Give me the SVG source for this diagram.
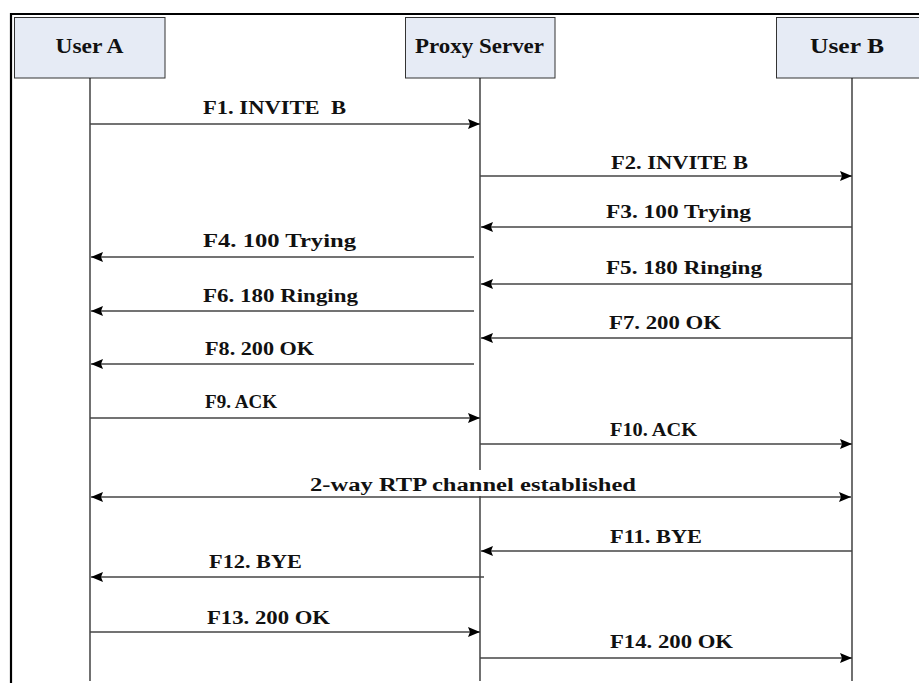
<svg xmlns="http://www.w3.org/2000/svg" width="919" height="683" viewBox="0 0 919 683">
<style>
.box{fill:#e6ebf5;stroke:#333;stroke-width:1}
.hd{font-family:"Liberation Serif",serif;font-weight:bold;font-size:20px;fill:#111;text-anchor:middle}
.lb{font-family:"Liberation Serif",serif;font-weight:bold;font-size:18px;fill:#111}
.life{stroke:#111;stroke-width:1.2}
.msg{stroke:#444;stroke-width:1.4;fill:none}
</style>
<defs>
<marker id="ah" viewBox="0 0 12 10" refX="12" refY="5" markerWidth="12" markerHeight="10" markerUnits="userSpaceOnUse" orient="auto-start-reverse">
<path d="M0,0 L12,5 L0,10 L2,5 Z" fill="#000"/>
</marker>
</defs>
<rect width="919" height="683" fill="#fff"/>
<g id="frame">
<line x1="10" y1="14" x2="919" y2="14" stroke="#000" stroke-width="2.2"/>
<line x1="11" y1="13" x2="11" y2="683" stroke="#000" stroke-width="2.2"/>
</g>
<g id="userA">
<rect class="box" x="14.5" y="17.5" width="150.5" height="60.5"/>
<text class="hd" x="89.5" y="53" textLength="68" lengthAdjust="spacingAndGlyphs">User A</text>
<line class="life" x1="90" y1="78" x2="90" y2="681"/>
</g>
<g id="proxy">
<rect class="box" x="405.5" y="17.5" width="149.5" height="60.5"/>
<text class="hd" x="479.5" y="53" textLength="129" lengthAdjust="spacingAndGlyphs">Proxy Server</text>
<line class="life" x1="480" y1="78" x2="480" y2="470"/>
<line class="life" x1="480" y1="496" x2="480" y2="681"/>
</g>
<g id="userB">
<rect class="box" x="776.5" y="17.5" width="150" height="60.5"/>
<text class="hd" x="847" y="53" textLength="74" lengthAdjust="spacingAndGlyphs">User B</text>
<line class="life" x1="852" y1="78" x2="852" y2="681"/>
</g>
<g id="connectors">
<line class="msg" x1="90" y1="124" x2="480" y2="124" marker-end="url(#ah)"/>
<line class="msg" x1="480" y1="176" x2="852" y2="176" marker-end="url(#ah)"/>
<line class="msg" x1="852" y1="227" x2="481" y2="227" marker-end="url(#ah)"/>
<line class="msg" x1="474" y1="257" x2="91" y2="257" marker-end="url(#ah)"/>
<line class="msg" x1="852" y1="284" x2="481" y2="284" marker-end="url(#ah)"/>
<line class="msg" x1="474" y1="311" x2="91" y2="311" marker-end="url(#ah)"/>
<line class="msg" x1="852" y1="338" x2="481" y2="338" marker-end="url(#ah)"/>
<line class="msg" x1="474" y1="364" x2="91" y2="364" marker-end="url(#ah)"/>
<line class="msg" x1="90" y1="418" x2="480" y2="418" marker-end="url(#ah)"/>
<line class="msg" x1="480" y1="444" x2="852" y2="444" marker-end="url(#ah)"/>
<line class="msg" x1="91" y1="497" x2="851" y2="497" marker-start="url(#ah)" marker-end="url(#ah)"/>
<line class="msg" x1="852" y1="551" x2="481" y2="551" marker-end="url(#ah)"/>
<line class="msg" x1="484" y1="577" x2="91" y2="577" marker-end="url(#ah)"/>
<line class="msg" x1="90" y1="632" x2="480" y2="632" marker-end="url(#ah)"/>
<line class="msg" x1="480" y1="658" x2="852" y2="658" marker-end="url(#ah)"/>
</g>
<g id="labels">
<text class="lb" x="203" y="114" textLength="143" lengthAdjust="spacingAndGlyphs" xml:space="preserve">F1. INVITE  B</text>
<text class="lb" x="611" y="169" textLength="137" lengthAdjust="spacingAndGlyphs">F2. INVITE B</text>
<text class="lb" x="606" y="218" textLength="145" lengthAdjust="spacingAndGlyphs">F3. 100 Trying</text>
<text class="lb" x="203" y="247" textLength="153" lengthAdjust="spacingAndGlyphs">F4. 100 Trying</text>
<text class="lb" x="606" y="274" textLength="156" lengthAdjust="spacingAndGlyphs">F5. 180 Ringing</text>
<text class="lb" x="203" y="302" textLength="155" lengthAdjust="spacingAndGlyphs">F6. 180 Ringing</text>
<text class="lb" x="609" y="329" textLength="112" lengthAdjust="spacingAndGlyphs">F7. 200 OK</text>
<text class="lb" x="205" y="355" textLength="109" lengthAdjust="spacingAndGlyphs">F8. 200 OK</text>
<text class="lb" x="205" y="408" textLength="72" lengthAdjust="spacingAndGlyphs">F9. ACK</text>
<text class="lb" x="610" y="436" textLength="87" lengthAdjust="spacingAndGlyphs">F10. ACK</text>
<text class="lb" x="310" y="491" textLength="326" lengthAdjust="spacingAndGlyphs">2-way RTP channel established</text>
<text class="lb" x="610" y="543" textLength="92" lengthAdjust="spacingAndGlyphs">F11. BYE</text>
<text class="lb" x="209" y="568" textLength="93" lengthAdjust="spacingAndGlyphs">F12. BYE</text>
<text class="lb" x="207" y="624" textLength="123" lengthAdjust="spacingAndGlyphs">F13. 200 OK</text>
<text class="lb" x="610" y="648" textLength="123" lengthAdjust="spacingAndGlyphs">F14. 200 OK</text>
</g>
</svg>
